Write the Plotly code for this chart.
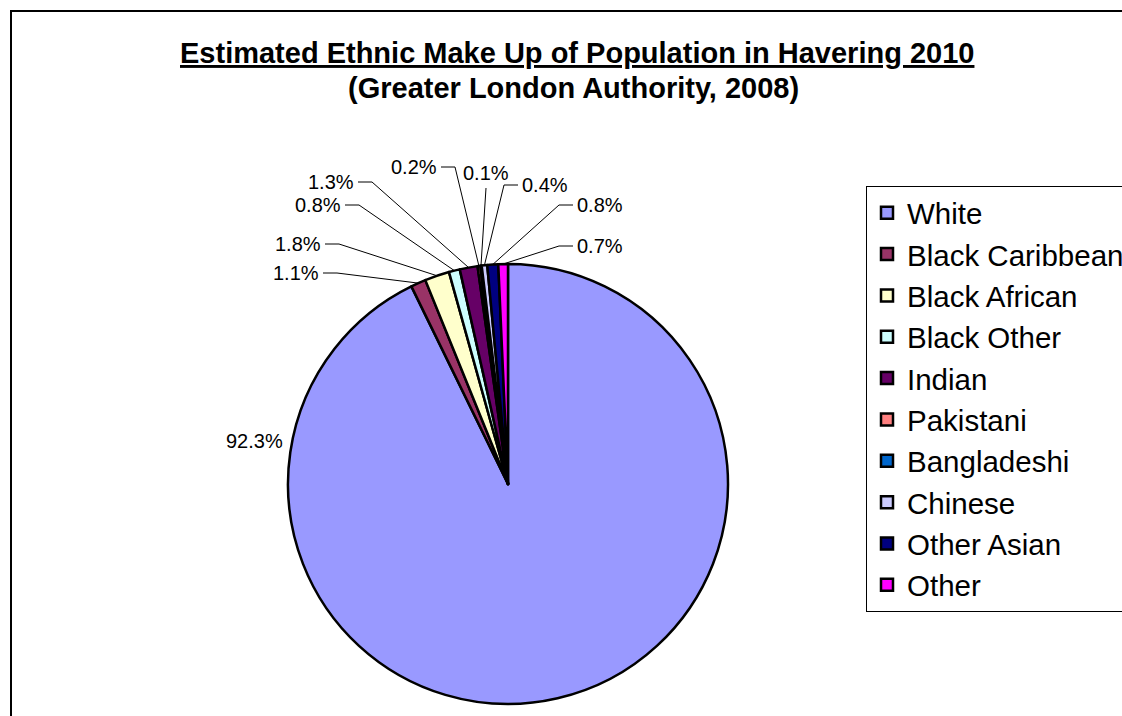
import math
import plotly.graph_objects as go

# ---------------- data ----------------
categories = ["White", "Black Caribbean", "Black African", "Black Other", "Indian",
              "Pakistani", "Bangladeshi", "Chinese", "Other Asian", "Other"]
percentages = [92.3, 1.1, 1.8, 0.8, 1.3, 0.2, 0.1, 0.4, 0.8, 0.7]
slice_colors = ["#9999FF", "#993366", "#FFFFCC", "#CCFFFF", "#660066",
                "#FF8080", "#0066CC", "#CCCCFF", "#000080", "#FF00FF"]
title_line1 = "Estimated Ethnic Make Up of Population in Havering 2010"
title_line2 = "(Greater London Authority, 2008)"

# ---------------- layout constants (screen pixels) ----------------
W, H = 1122, 716
CX, CY, R = 508, 484, 220            # pie centre and radius
FONT = "Liberation Sans, Arial, sans-serif"

# label anchor: (x, y, side, has_line)
label_place = [
    (285, 441, "right", False),
    (321, 273, "right", True),
    (323, 244, "right", True),
    (343, 205, "right", True),
    (356, 182, "right", True),
    (439, 167, "right", True),
    (486, 173, "above", True),
    (520, 185, "left", True),
    (575, 205, "left", True),
    (575, 246, "left", True),
]


def px(x):
    return x / W


def py(y):
    return 1 - y / H


fig = go.Figure()
fig.add_trace(go.Pie(
    labels=categories,
    values=percentages,
    sort=False,
    direction="clockwise",
    rotation=0,
    textinfo="none",
    hovertemplate="%{label}: %{value}%<extra></extra>",
    marker=dict(colors=slice_colors, line=dict(color="black", width=2.5)),
    domain=dict(x=[px(CX - R), px(CX + R)], y=[py(CY + R), py(CY - R)]),
))

# ---------------- labels with leader lines ----------------
total = sum(percentages)
annotations = []
shapes = []
cum = 0.0
lab_font = dict(family=FONT, size=20, color="black")
for val, (lx, ly, side, has_line) in zip(percentages, label_place):
    mid = (cum + val / 2) / total * 2 * math.pi
    cum += val
    ex = CX + R * math.sin(mid)
    ey = CY - R * math.cos(mid)
    txt = f"{val:.1f}%"
    if side == "right":
        annotations.append(dict(x=px(lx), y=py(ly), xref="paper", yref="paper", text=txt,
                                showarrow=False, xanchor="right", yanchor="middle",
                                font=lab_font))
        if has_line:
            sx, kx = lx + 2, lx + 16
            path = f"M {px(sx)} {py(ly)} L {px(kx)} {py(ly)} L {px(ex)} {py(ey)}"
            shapes.append(dict(type="path", xref="paper", yref="paper", path=path,
                               line=dict(color="black", width=1)))
    elif side == "left":
        annotations.append(dict(x=px(lx), y=py(ly), xref="paper", yref="paper", text=txt,
                                showarrow=False, xanchor="left", yanchor="middle",
                                font=lab_font))
        sx, kx = lx - 2, lx - 16
        path = f"M {px(sx)} {py(ly)} L {px(kx)} {py(ly)} L {px(ex)} {py(ey)}"
        shapes.append(dict(type="path", xref="paper", yref="paper", path=path,
                           line=dict(color="black", width=1)))
    else:  # above
        annotations.append(dict(x=px(lx), y=py(ly), xref="paper", yref="paper", text=txt,
                                showarrow=False, xanchor="center", yanchor="middle",
                                font=lab_font))
        path = f"M {px(lx)} {py(ly + 15)} L {px(ex)} {py(ey)}"
        shapes.append(dict(type="path", xref="paper", yref="paper", path=path,
                           line=dict(color="black", width=1)))

# ---------------- title ----------------
annotations.append(dict(x=px(577), y=py(53), xref="paper", yref="paper",
                        text=f"<b><u>{title_line1}</u></b>", showarrow=False,
                        xanchor="center", yanchor="middle",
                        font=dict(family=FONT, size=29, color="black")))
annotations.append(dict(x=px(573), y=py(88), xref="paper", yref="paper",
                        text=f"<b>{title_line2}</b>", showarrow=False,
                        xanchor="center", yanchor="middle",
                        font=dict(family=FONT, size=29, color="black")))

# outer chart frame
shapes.append(dict(type="rect", xref="paper", yref="paper",
                   x0=px(11), x1=px(W + 30), y0=py(H + 30), y1=py(11),
                   line=dict(color="black", width=2), layer="above"))

fig.update_layout(
    width=W, height=H,
    margin=dict(l=0, r=0, t=0, b=0, autoexpand=False),
    paper_bgcolor="white",
    plot_bgcolor="white",
    font=dict(family=FONT, color="black"),
    showlegend=True,
    legend=dict(x=px(866), y=py(186), xanchor="left", yanchor="top",
                bgcolor="white", bordercolor="black", borderwidth=1,
                font=dict(family=FONT, size=29.5, color="black"),
                traceorder="normal"),
    annotations=annotations,
    shapes=shapes,
)

fig.write_html(
    "out.html",
    config={"displayModeBar": False},
    post_script="document.body.style.margin='0';document.body.style.overflow='hidden';",
)
